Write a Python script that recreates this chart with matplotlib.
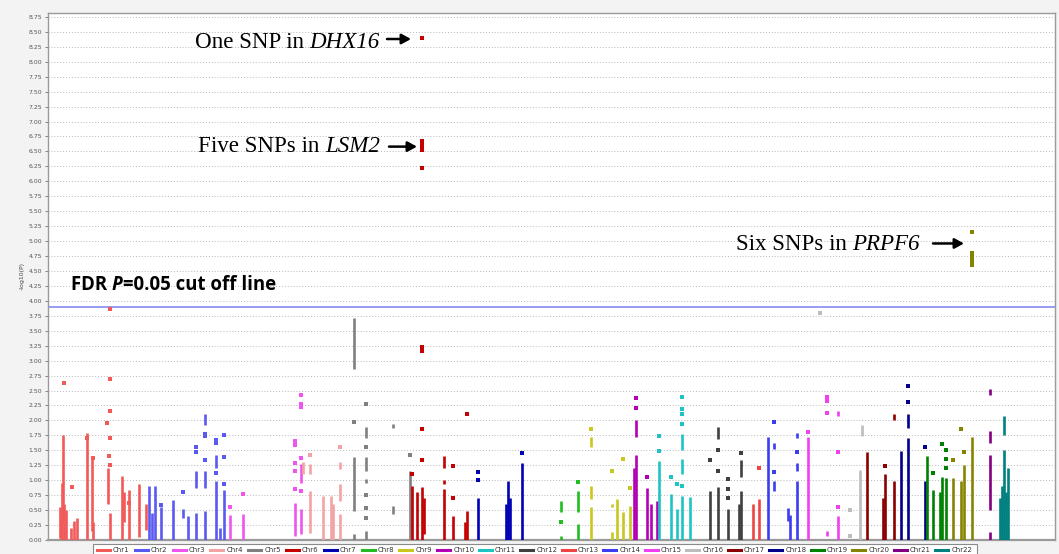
import matplotlib
matplotlib.use("Agg")
import matplotlib.pyplot as plt
from matplotlib.lines import Line2D
from matplotlib.patches import Rectangle

# ---------------- data ----------------
# x = relative genomic position (plot units), y = -log10(P)
# segments: (position, low, high) densely packed SNP columns; points: (position, value)
CHROMS = ["Chr%d" % i for i in range(1, 23)]
COLORS = ["#f25a5a", "#5a5af2", "#f055f0", "#f3a3a3", "#808080", "#c40000",
          "#0000b4", "#22bb22", "#c8c81e", "#b400b4", "#1ec3c3", "#404040",
          "#f04444", "#3c3cf0", "#f040f0", "#bdbdbd", "#8b0000", "#00008c",
          "#008200", "#848400", "#820082", "#008080"]

chr1_segs = [(60, 0.03, 0.55), (61, 0.0, 0.35), (62, 0.0, 0.95), (63, 0.25, 1.75),
             (64, 0.0, 0.6), (66, 0.0, 0.5), (71, 0.0, 0.2), (74, 0.0, 0.32),
             (77, 0.0, 0.37), (87, 0.0, 1.79), (92, 0.15, 1.40), (93, 0.0, 0.3),
             (108, 0.6, 1.2), (110, 0.0, 0.45), (122, 0.0, 1.07), (124, 0.3, 0.8),
             (129, 0.0, 0.84), (139, 0.05, 0.93), (146, 0.17, 0.6)]
chr1_pts = [(64, 2.62), (72, 0.89), (110, 3.86), (110, 2.70), (110, 2.15), (107, 1.95),
            (110, 1.71), (109, 1.40), (110, 1.25), (87, 1.70), (93, 1.37), (129, 0.62)]

chr2_segs = [(149, 0.0, 0.9), (152, 0.0, 0.45), (155, 0.0, 0.9), (161, 0.0, 0.55),
             (173, 0.0, 0.67), (183, 0.37, 0.52), (188, 0.0, 0.40), (196, 0.0, 0.45),
             (196, 0.87, 1.15), (205, 1.93, 2.11), (205, 0.87, 1.15), (205, 0.0, 0.48),
             (216, 1.2, 1.43), (216, 0.0, 0.98), (220, 0.0, 0.2), (224, 0.0, 0.84)]
chr2_pts = [(161, 0.59), (183, 0.80), (196, 1.55), (196, 1.48), (205, 1.78), (205, 1.74),
            (205, 1.34), (216, 1.68), (216, 1.62), (216, 1.12), (224, 1.75), (224, 1.38),
            (224, 0.93)]

chr3_segs = [(230, 0.0, 0.42), (243, 0.0, 0.44), (295, 0.07, 0.62), (301, 0.96, 1.27),
             (301, 0.1, 0.52)]
chr3_pts = [(230, 0.56), (243, 0.77), (295, 1.66), (295, 1.59), (295, 1.29), (295, 1.16),
            (295, 0.85), (301, 2.43), (301, 2.27), (301, 2.23), (301, 1.37), (301, 0.82)]

chr4_segs = [(303, 1.1, 1.3), (310, 1.1, 1.27), (310, 0.12, 0.82), (323, 0.0, 0.74),
             (331, 0.0, 0.74), (333, 0.0, 0.6), (340, 1.18, 1.31), (340, 0.65, 0.93),
             (340, 0.0, 0.43)]
chr4_pts = [(310, 1.43), (340, 1.56)]

chr5_segs = [(354, 2.86, 3.72), (354, 0.49, 1.38), (354, 0.0, 0.1), (366, 1.71, 1.89),
             (366, 1.16, 1.38), (366, 0.96, 1.02), (366, 0.0, 0.15), (393, 1.88, 1.94),
             (393, 0.43, 0.57), (410, 0.0, 1.16)]
chr5_pts = [(354, 1.98), (366, 2.27), (366, 1.55), (366, 0.75), (366, 0.54), (366, 0.37),
            (410, 1.43)]

chr6_segs = [(412, 0.0, 0.9), (417, 0.0, 0.8), (422, 0.0, 0.88), (424, 0.1, 0.7),
             (444, 1.2, 1.4), (444, 0.93, 1.0), (444, 0.0, 0.85), (453, 0.0, 0.4),
             (465, 0.0, 0.3), (467, 0.0, 0.49)]
chr6_pts = [(412, 1.10), (422, 8.40), (422, 6.68), (422, 6.63), (422, 6.58), (422, 6.53),
            (422, 6.23), (422, 3.22), (422, 3.16), (422, 1.85), (422, 1.33), (453, 1.24),
            (453, 0.71), (467, 2.10)]

chr7_segs = [(478, 0.0, 0.71), (506, 0.0, 0.6), (508, 0.0, 0.99), (510, 0.0, 0.7),
             (522, 0.0, 1.29)]
chr7_pts = [(478, 1.14), (478, 1.0), (522, 1.45)]

chr8_segs = [(561, 0.46, 0.65), (561, 0.0, 0.07), (578, 0.46, 0.82), (578, 0.0, 0.27)]
chr8_pts = [(561, 0.30), (578, 0.97)]

chr9_segs = [(591, 1.55, 1.72), (591, 0.69, 0.9), (591, 0.0, 0.55), (612, 0.55, 0.6),
             (612, 0.0, 0.13), (617, 0.0, 0.68), (623, 0.0, 0.46), (630, 0.0, 0.57)]
chr9_pts = [(591, 1.86), (612, 1.16), (623, 1.35), (630, 0.87)]

chr10_segs = [(636, 1.72, 2.0), (636, 0.0, 1.43), (634, 0.0, 1.2), (647, 0.0, 0.87),
              (651, 0.0, 0.6), (657, 0.0, 0.65)]
chr10_pts = [(636, 2.38), (636, 2.21), (647, 1.06)]

chr11_segs = [(659, 0.0, 1.32), (671, 0.0, 0.77), (677, 0.0, 0.52), (682, 1.5, 1.77),
              (682, 1.1, 1.36), (682, 0.0, 0.74), (690, 0.0, 0.72)]
chr11_pts = [(659, 1.74), (659, 1.49), (671, 1.05), (677, 0.94), (682, 2.39), (682, 2.19),
             (682, 2.10), (682, 1.94), (682, 0.90)]

chr12_segs = [(710, 0.0, 0.82), (718, 1.69, 1.89), (718, 0.0, 0.88), (728, 0.0, 0.52),
              (741, 1.05, 1.33), (741, 0.0, 0.82), (739, 0.0, 0.6)]
chr12_pts = [(710, 1.34), (718, 1.50), (718, 1.16), (728, 1.02), (728, 0.85), (728, 0.70),
             (741, 1.45)]

chr13_segs = [(753, 0.0, 0.6), (759, 0.0, 0.68)]
chr13_pts = [(759, 1.20)]

chr14_segs = [(768, 0.0, 1.72), (774, 1.52, 1.63), (774, 0.82, 0.98), (788, 0.32, 0.54),
              (790, 0.0, 0.42), (797, 1.71, 1.79), (797, 1.15, 1.28), (797, 0.0, 0.98)]
chr14_pts = [(774, 1.97), (774, 1.13), (797, 1.48)]

chr15_segs = [(808, 0.0, 1.73), (827, 0.06, 0.15), (838, 2.07, 2.15), (838, 0.0, 0.4)]
chr15_pts = [(808, 1.80), (827, 2.39), (827, 2.32), (827, 2.13), (838, 1.48), (838, 0.56)]

chr16_segs = [(862, 1.74, 1.93), (860, 0.0, 1.17)]
chr16_pts = [(820, 3.79), (850, 0.51), (850, 0.06)]

chr17_segs = [(867, 0.0, 1.48), (883, 0.0, 0.7), (885, 0.0, 1.1), (894, 2.01, 2.1),
              (894, 0.0, 0.98)]
chr17_pts = [(885, 1.23)]

chr18_segs = [(901, 0.0, 1.49), (908, 1.87, 2.1), (908, 0.0, 1.71), (925, 0.0, 0.98)]
chr18_pts = [(908, 2.58), (908, 2.31), (925, 1.55)]

chr19_segs = [(927, 0.0, 1.4), (933, 0.0, 0.84), (940, 0.0, 0.8), (942, 0.0, 1.06),
              (946, 0.0, 1.04)]
chr19_pts = [(933, 1.12), (942, 1.61), (946, 1.50), (946, 1.35), (946, 1.20)]

chr20_segs = [(953, 0.0, 1.04), (961, 0.0, 0.98), (964, 0.0, 1.26), (972, 0.0, 1.73)]
chr20_pts = [(953, 1.33), (961, 1.85), (964, 1.48), (972, 5.16), (972, 4.80), (972, 4.75),
             (972, 4.70), (972, 4.65), (972, 4.60)]

chr21_segs = [(990, 2.43, 2.52), (990, 1.62, 1.82), (990, 0.5, 1.43), (990, 0.0, 0.14)]
chr21_pts = []

chr22_segs = [(1004, 1.76, 2.07), (1004, 0.0, 1.51), (1000, 0.0, 0.7), (1002, 0.0, 0.9),
              (1006, 0.0, 0.8), (1008, 0.0, 1.2)]
chr22_pts = []

ALL_SEGS = [chr1_segs, chr2_segs, chr3_segs, chr4_segs, chr5_segs, chr6_segs, chr7_segs,
            chr8_segs, chr9_segs, chr10_segs, chr11_segs, chr12_segs, chr13_segs,
            chr14_segs, chr15_segs, chr16_segs, chr17_segs, chr18_segs, chr19_segs,
            chr20_segs, chr21_segs, chr22_segs]
ALL_PTS = [chr1_pts, chr2_pts, chr3_pts, chr4_pts, chr5_pts, chr6_pts, chr7_pts, chr8_pts,
           chr9_pts, chr10_pts, chr11_pts, chr12_pts, chr13_pts, chr14_pts, chr15_pts,
           chr16_pts, chr17_pts, chr18_pts, chr19_pts, chr20_pts, chr21_pts, chr22_pts]

FDR_CUTOFF = 3.90
YTICKS = [i * 0.25 for i in range(36)]

# ---------------- figure ----------------
W, H = 1059, 554
fig = plt.figure(figsize=(W / 100, H / 100), dpi=100)
fig.patch.set_facecolor("#f3f3f3")

ax = fig.add_axes([48 / W, 1 - 540 / H, (1055 - 48) / W, (540 - 13) / H])
ax.set_facecolor("white")
ax.set_xlim(48, 1055)
ax.set_ylim(0, 8.815)

ax.set_yticks(YTICKS)
ax.set_yticklabels(["%.2f" % v for v in YTICKS])
ax.tick_params(axis="y", labelsize=4.4, length=2, width=0.5, pad=2, colors="#555555")
ax.set_xticks([])
ax.yaxis.grid(True, linestyle=(0, (1, 2)), color="#b8b8b8", lw=0.7)
ax.set_axisbelow(True)
for s in ax.spines.values():
    s.set_color("#9a9a9a")
    s.set_linewidth(1.0)
ax.spines["bottom"].set_linewidth(1.6)
ax.set_ylabel("-log10(P)", fontsize=4.5, color="#444444", labelpad=3)

ax.axhline(FDR_CUTOFF, color="#9a9af5", lw=1.4, zorder=2)

for segs, pts, col in zip(ALL_SEGS, ALL_PTS, COLORS):
    if segs:
        ax.vlines([s[0] for s in segs], [s[1] for s in segs], [s[2] for s in segs],
                  colors=col, lw=1.9, zorder=3)
    if pts:
        ax.scatter([p[0] for p in pts], [p[1] for p in pts], s=6, c=col, marker="s",
                   linewidths=0, zorder=4)

# ---------------- annotations ----------------
SERIF = ["Liberation Serif", "DejaVu Serif"]


def rich(x, y, parts, fontsize, family, weight="normal"):
    prev = None
    for txt, style in parts:
        if prev is None:
            prev = ax.text(x, y, txt, fontsize=fontsize, family=family, style=style,
                           weight=weight, va="baseline", ha="left", zorder=6)
        else:
            prev = ax.annotate(txt, xy=(1, 0), xycoords=prev, va="bottom", ha="left",
                               fontsize=fontsize, family=family, style=style,
                               weight=weight, zorder=6)


def arrow(x0, x1, y):
    ax.annotate("", xy=(x1, y), xytext=(x0, y),
                arrowprops=dict(arrowstyle="-|>,head_length=0.55,head_width=0.3",
                                lw=1.8, color="black", shrinkA=0, shrinkB=0),
                zorder=6)


rich(195, 8.23, [("One SNP in ", "normal"), ("DHX16", "italic")], 16.6, SERIF)
arrow(387, 411, 8.38)
rich(198, 6.49, [("Five SNPs in ", "normal"), ("LSM2", "italic")], 16.6, SERIF)
arrow(389, 417, 6.58)
rich(736, 4.85, [("Six SNPs in ", "normal"), ("PRPF6", "italic")], 16.6, SERIF)
arrow(933, 964, 4.96)
rich(71, 4.18, [("FDR ", "normal"), ("P", "italic"), ("=0.05 cut off line", "normal")],
     13.4, ["Open Sans", "DejaVu Sans"], weight="bold")

# ---------------- legend ----------------
fig.add_artist(Rectangle((93 / W, -0.02), (977 - 93) / W, 0.02 + (554 - 544) / H,
                         transform=fig.transFigure, facecolor="white",
                         edgecolor="#8a8a8a", lw=0.8))
x = 97.0
ly = 1 - 549.5 / H
for name, col in zip(CHROMS, COLORS):
    fig.add_artist(Line2D([x / W, (x + 13) / W], [ly, ly], transform=fig.transFigure,
                          color=col, lw=2.2))
    fig.text((x + 16) / W, ly, name, fontsize=5, color="#333333", va="center", ha="left")
    x += 37.8 if len(name) == 4 else 41.5

fig.savefig("out.png", dpi=100, facecolor=fig.get_facecolor())
